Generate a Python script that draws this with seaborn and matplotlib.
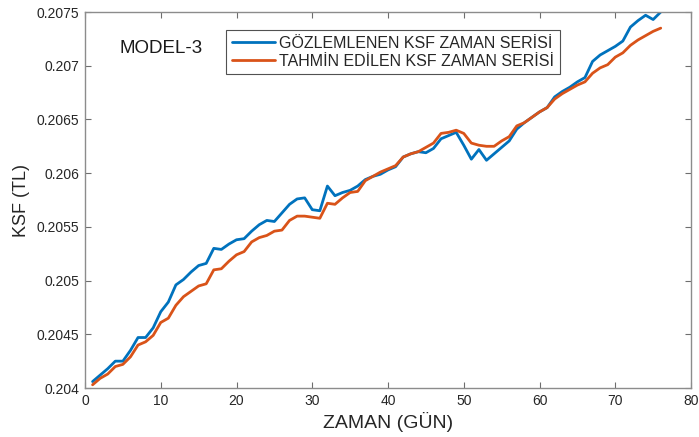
import matplotlib
matplotlib.use("Agg")
import matplotlib.pyplot as plt
import numpy as np
import pandas as pd
import seaborn as sns

days = list(range(1, 77))

observed = [
    0.20406, 0.20412, 0.20418, 0.20425, 0.20425, 0.20435, 0.20447, 0.20447, 0.20456, 0.20471,
    0.20480, 0.20496, 0.20501, 0.20508, 0.20514, 0.20516, 0.20530, 0.20529, 0.20534, 0.20538,
    0.20539, 0.20546, 0.20552, 0.20556, 0.20555, 0.20563, 0.20571, 0.20576, 0.20577, 0.20566,
    0.20565, 0.20588, 0.20579, 0.20582, 0.20584, 0.20588, 0.20594, 0.20597, 0.20599, 0.20603,
    0.20606, 0.20615, 0.20618, 0.20620, 0.20619, 0.20623, 0.20632, 0.20635, 0.20638, 0.20626,
    0.20613, 0.20622, 0.20612, 0.20618, 0.20624, 0.20630, 0.20641, 0.20647, 0.20652, 0.20657,
    0.20661, 0.20671, 0.20676, 0.20680, 0.20685, 0.20689, 0.20704, 0.20710, 0.20714, 0.20718,
    0.20723, 0.20736, 0.20742, 0.20747, 0.20743, 0.20750,
]

predicted = [
    0.20403, 0.20409, 0.20413, 0.20420, 0.20422, 0.20429, 0.20440, 0.20443, 0.20449, 0.20461,
    0.20465, 0.20477, 0.20485, 0.20490, 0.20495, 0.20497, 0.20510, 0.20511, 0.20518, 0.20524,
    0.20527, 0.20536, 0.20540, 0.20542, 0.20546, 0.20547, 0.20556, 0.20560, 0.20560, 0.20559,
    0.20558, 0.20572, 0.20571, 0.20577, 0.20582, 0.20583, 0.20593, 0.20597, 0.20601, 0.20604,
    0.20607, 0.20615, 0.20618, 0.20620, 0.20624, 0.20628, 0.20637, 0.20638, 0.20640, 0.20637,
    0.20628, 0.20626, 0.20625, 0.20625, 0.20630, 0.20634, 0.20644, 0.20647, 0.20652, 0.20657,
    0.20661, 0.20669, 0.20674, 0.20678, 0.20682, 0.20685, 0.20693, 0.20698, 0.20701, 0.20708,
    0.20712, 0.20719, 0.20724, 0.20728, 0.20732, 0.20735,
]

series_names = ["GÖZLEMLENEN KSF ZAMAN SERİSİ", "TAHMİN EDİLEN KSF ZAMAN SERİSİ"]
x_ticks = [0, 10, 20, 30, 40, 50, 60, 70, 80]
y_ticks = [0.204, 0.2045, 0.205, 0.2055, 0.206, 0.2065, 0.207, 0.2075]
y_tick_labels = ["0.204", "0.2045", "0.205", "0.2055", "0.206", "0.2065", "0.207", "0.2075"]

df = pd.DataFrame({
    "day": days * 2,
    "ksf": observed + predicted,
    "series": [series_names[0]] * len(days) + [series_names[1]] * len(days),
})

sns.set_theme(style="white")
plt.rcParams["font.family"] = ["Liberation Sans", "DejaVu Sans"]

fig = plt.figure(figsize=(6.99, 4.37), dpi=100)
ax = fig.add_axes([0.1216, 0.1121, 0.8670, 0.8604])

palette = {series_names[0]: "#0072BD", series_names[1]: "#D95319"}
sns.lineplot(data=df, x="day", y="ksf", hue="series", palette=palette,
             linewidth=2.0, ax=ax, legend=True)

ax.set_xlim(0, 80)
ax.set_ylim(0.204, 0.2075)
ax.set_xticks(x_ticks)
ax.set_xticklabels([str(t) for t in x_ticks])
ax.set_yticks(y_ticks)
ax.set_yticklabels(y_tick_labels)

for s in ax.spines.values():
    s.set_visible(True)
    s.set_color("#8c8c8c")
    s.set_linewidth(1.0)

ax.tick_params(axis="both", which="major", direction="in", length=4, width=0.8,
               color="#6e6e6e", labelsize=10, labelcolor="#262626",
               top=True, right=True, bottom=True, left=True, pad=4)

ax.set_xlabel("ZAMAN (GÜN)", fontsize=14, color="#262626", labelpad=3)
ax.set_ylabel("KSF (TL)", fontsize=13, color="#262626", labelpad=5)

ax.text(4.6, 0.20716, "MODEL-3", fontsize=13.5, color="#1a1a1a", va="center", ha="left")

leg = ax.legend(loc="upper left", bbox_to_anchor=(0.233, 0.952), borderaxespad=0,
                fontsize=11.5, frameon=True, fancybox=False, handlelength=2.7,
                handletextpad=0.25, borderpad=0.35, labelspacing=0.2)
leg.get_frame().set_edgecolor("#262626")
leg.get_frame().set_linewidth(0.8)
for t in leg.get_texts():
    t.set_color("#262626")

fig.savefig("out.png", dpi=100)
